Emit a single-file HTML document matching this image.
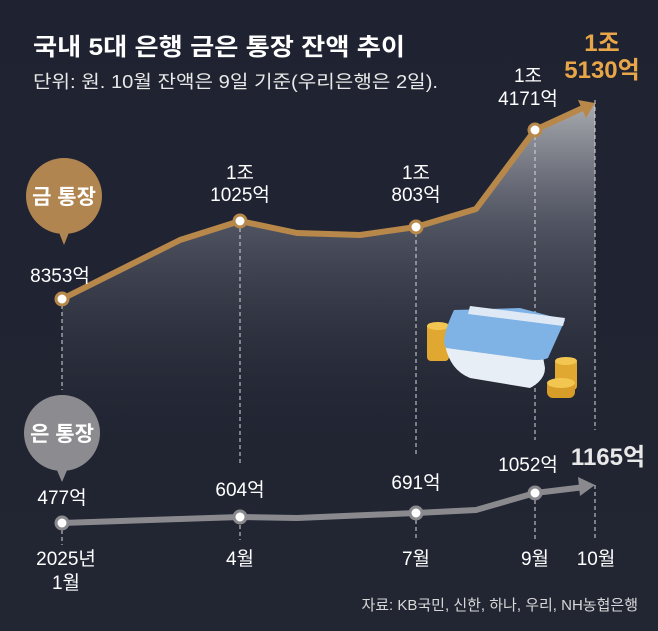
<!DOCTYPE html>
<html><head><meta charset="utf-8"><style>
html,body{margin:0;padding:0;background:#20242f;}
svg{display:block;}
text{font-family:"Liberation Sans","Noto Sans CJK KR",sans-serif;}
</style></head><body>
<svg width="658" height="631" viewBox="0 0 658 631" xmlns="http://www.w3.org/2000/svg">
<defs>
<linearGradient id="bg" x1="0" y1="0" x2="0" y2="1">
<stop offset="0" stop-color="#1f2331"/><stop offset="1" stop-color="#222633"/>
</linearGradient>
<linearGradient id="fill" x1="0" y1="0" x2="0" y2="1">
<stop offset="0" stop-color="#ffffff" stop-opacity="0.95"/>
<stop offset="0.35" stop-color="#9a9daa" stop-opacity="0.6"/>
<stop offset="1" stop-color="#2a2e3b" stop-opacity="0"/>
</linearGradient>
</defs>
<rect width="658" height="631" fill="url(#bg)"/>
<path d="M62,299 L180,240 L240,221 L297,233 L360,235 L416,227 L476,209 L535,130 L595,103 L595,450 L62,450 Z" fill="url(#fill)" opacity="0.65"/>
<g stroke="#d8d8d8" stroke-width="1" stroke-dasharray="4,3">
<line x1="62" y1="305" x2="62" y2="390"/>
<line x1="62" y1="530" x2="62" y2="545"/>
<line x1="240" y1="228" x2="240" y2="465"/>
<line x1="240" y1="525" x2="240" y2="540"/>
<line x1="416" y1="233" x2="416" y2="455"/>
<line x1="416" y1="520" x2="416" y2="540"/>
<line x1="535" y1="136" x2="535" y2="440"/>
<line x1="535" y1="500" x2="535" y2="540"/>
<line x1="595" y1="100" x2="595" y2="430"/>
<line x1="595" y1="485" x2="595" y2="540"/>
</g>
<polyline points="62,299 180,240 240,221 297,233 360,235 416,227 476,209 535,130 585,107" fill="none" stroke="#b8884a" stroke-width="6" stroke-linejoin="round"/>
<polygon points="595,103 578,100 586,118" fill="#b8884a"/>
<g fill="#fff" stroke="#b8884a" stroke-width="3">
<circle cx="62" cy="299" r="6"/><circle cx="240" cy="221" r="6"/><circle cx="416" cy="227" r="6"/><circle cx="535" cy="130" r="6"/>
</g>
<polyline points="62,523 240,517 297,518 416,513 476,510 535,493 585,487" fill="none" stroke="#8a8a8e" stroke-width="6" stroke-linejoin="round"/>
<polygon points="595,485 578,477 580,496" fill="#8a8a8e"/>
<g fill="#fff" stroke="#8a8a8e" stroke-width="3">
<circle cx="62" cy="523" r="6"/><circle cx="240" cy="517" r="6"/><circle cx="416" cy="513" r="6"/><circle cx="535" cy="493" r="6"/>
</g>
<circle cx="64" cy="196" r="38" fill="#b08550"/>
<polygon points="58,230 70,230 64,245" fill="#b08550"/>
<text x="64" y="204" font-size="21" font-weight="bold" fill="#fff" text-anchor="middle">금 통장</text>
<circle cx="62" cy="433" r="38" fill="#8c8c90"/>
<polygon points="56,468 68,468 62,482" fill="#8c8c90"/>
<text x="62" y="441" font-size="21" font-weight="bold" fill="#fff" text-anchor="middle">은 통장</text>
<g>
<rect x="427" y="323" width="22" height="38" rx="4" fill="#e0a830"/>
<ellipse cx="438" cy="326" rx="11" ry="4" fill="#f2c650"/>
<path d="M445,345 Q450,370 470,378 L530,388 Q545,380 545,368 L540,340 Z" fill="#e8eef5"/>
<path d="M454,310 L520,308 L565,320 L548,358 Q540,362 520,358 L446,348 Q440,340 454,310 Z" fill="#7fb2e5"/>
<path d="M470,306 L565,318 L563,326 L468,314 Z" fill="#dfe9f5"/>
<rect x="555" y="358" width="22" height="32" rx="4" fill="#e0a830"/>
<ellipse cx="566" cy="361" rx="11" ry="4" fill="#f2c650"/>
<rect x="547" y="380" width="28" height="18" rx="6" fill="#d89d28"/>
<ellipse cx="561" cy="383" rx="14" ry="5" fill="#f2c650"/>
</g>
<text x="33" y="55" font-size="24" font-weight="bold" fill="#fff" textLength="372" lengthAdjust="spacingAndGlyphs">국내 5대 은행 금은 통장 잔액 추이</text>
<text x="33" y="88" font-size="18" fill="#e8e8e8" textLength="405" lengthAdjust="spacingAndGlyphs">단위: 원. 10월 잔액은 9일 기준(우리은행은 2일).</text>
<g fill="#fff" font-size="19" text-anchor="middle">
<text x="60" y="282">8353억</text>
<text x="240" y="179">1조</text><text x="240" y="201">1025억</text>
<text x="416" y="179">1조</text><text x="416" y="201">803억</text>
<text x="528" y="82">1조</text><text x="528" y="105">4171억</text>
</g>
<g fill="#e8a648" font-size="24" font-weight="bold" text-anchor="middle">
<text x="602" y="51">1조</text><text x="602" y="78">5130억</text>
</g>
<g fill="#fff" font-size="19" text-anchor="middle">
<text x="62" y="504">477억</text>
<text x="240" y="496">604억</text>
<text x="416" y="489">691억</text>
<text x="528" y="471">1052억</text>
</g>
<text x="608" y="465" font-size="24" font-weight="bold" fill="#e8e8e8" text-anchor="middle">1165억</text>
<g fill="#fff" font-size="19" text-anchor="middle">
<text x="66" y="565">2025년</text><text x="66" y="589">1월</text>
<text x="240" y="565">4월</text>
<text x="416" y="565">7월</text>
<text x="535" y="565">9월</text>
<text x="596" y="565">10월</text>
</g>
<text x="638" y="610" font-size="15" fill="#d8d8d8" text-anchor="end">자료: KB국민, 신한, 하나, 우리, NH농협은행</text>
</svg>
</body></html>
